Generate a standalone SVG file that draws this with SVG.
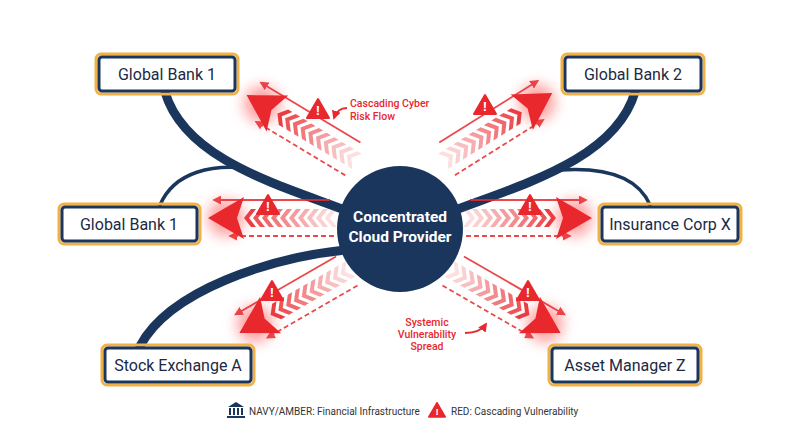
<svg xmlns="http://www.w3.org/2000/svg" xmlns:xlink="http://www.w3.org/1999/xlink" width="800" height="447" viewBox="0 0 800 447">
<defs>
<style>
.box{fill:#fff;stroke:#1b365d;stroke-width:3}
.amb{fill:none;stroke:#f2b045;stroke-width:3}
.lbl{font-family:Roboto,"Liberation Sans",sans-serif;font-size:16px;fill:#1b2a45;text-anchor:middle}
.navy{fill:none;stroke:#1b365d;stroke-linecap:round}
.rl{stroke:#e8282d;stroke-width:1.8;fill:none}
.ann{font-family:Roboto,"Liberation Sans",sans-serif;font-size:10.5px;fill:#e8282d;font-weight:500}
.leg{font-family:Roboto,"Liberation Sans",sans-serif;font-size:10px;fill:#333}
</style>
<filter id="blur" x="-1" y="-1" width="3" height="3"><feGaussianBlur stdDeviation="7"/></filter>
<marker id="ah" viewBox="0 0 10 10" refX="8" refY="5" markerWidth="5" markerHeight="5" orient="auto"><path d="M0,0 L10,5 L0,10 Z" fill="#e8282d"/></marker>
<path id="chev" d="M0,-9 L7,0 L0,9 L-5,9 L2,0 L-5,-9 Z" fill="#e8282d"/>
<g id="flow">
<circle cx="112" cy="0" r="18" fill="#ff4d4d" opacity="0.55" filter="url(#blur)"/>
<line x1="8" y1="-18" x2="124" y2="-18" class="rl" marker-end="url(#ah)" opacity="0.85"/>
<line x1="4" y1="18" x2="108" y2="18" class="rl" stroke-dasharray="5,3" marker-end="url(#ah)" opacity="0.85"/>
<use href="#chev" x="6" opacity="0.15"/><use href="#chev" x="15" opacity="0.22"/><use href="#chev" x="24" opacity="0.3"/>
<use href="#chev" x="33" opacity="0.38"/><use href="#chev" x="42" opacity="0.46"/><use href="#chev" x="51" opacity="0.54"/>
<use href="#chev" x="60" opacity="0.62"/><use href="#chev" x="69" opacity="0.7"/><use href="#chev" x="78" opacity="0.8"/>
<use href="#chev" x="87" opacity="0.9"/>
<path d="M94,-21 L130,0 L94,21 L101,0 Z" fill="#e8282d"/>
</g>
<g id="warn"><path d="M0,-11 L11,8 L-11,8 Z" fill="#e8282d" stroke="#e8282d" stroke-width="2" stroke-linejoin="round"/><text x="0" y="5" font-family="Liberation Sans,sans-serif" font-size="13" font-weight="bold" fill="#fff" text-anchor="middle">!</text></g>
</defs>
<rect width="800" height="447" fill="#fff"/>

<g id="connectors">
<path class="navy" stroke-width="9" d="M165,92 C185,160 280,185 350,212"/>
<path class="navy" stroke-width="3.5" d="M160,205 C175,170 215,165 245,168"/>
<path class="navy" stroke-width="9" d="M635,92 C615,160 520,185 450,212"/>
<path class="navy" stroke-width="3.5" d="M650,205 C635,170 590,168 560,170"/>
<path class="navy" stroke-width="9" d="M140,346 C170,290 270,258 345,250"/>
</g>

<g id="flows">
<use href="#flow" transform="translate(358,162) rotate(211) scale(1,-1)"/>
<use href="#flow" transform="translate(442,162) rotate(-32)"/>
<use href="#flow" transform="translate(338,218) rotate(180) scale(1,-1)"/>
<use href="#flow" transform="translate(462,218)"/>
<use href="#flow" transform="translate(352,268) rotate(150) scale(1,-1)"/>
<use href="#flow" transform="translate(448,268) rotate(30)"/>
<use href="#warn" x="318" y="110"/>
<use href="#warn" x="485" y="106"/>
<use href="#warn" x="268" y="206"/>
<use href="#warn" x="530" y="206"/>
<use href="#warn" x="272" y="292"/>
<use href="#warn" x="528" y="292"/>
</g>

<g id="provider">
<circle cx="400" cy="229" r="63" fill="#1b365d"/>
<text x="400" y="222" font-family="Roboto,'Liberation Sans',sans-serif" font-size="15.5" font-weight="bold" fill="#fff" text-anchor="middle">Concentrated</text>
<text x="400" y="242" font-family="Roboto,'Liberation Sans',sans-serif" font-size="15.5" font-weight="bold" fill="#fff" text-anchor="middle">Cloud Provider</text>
</g>

<g id="n-gb1-top"><rect class="amb" x="96" y="54" width="142" height="40" rx="5"/><rect class="box" x="99" y="57" width="136" height="34" rx="3"/><text class="lbl" x="167" y="80">Global Bank 1</text></g>
<g id="n-gb2"><rect class="amb" x="562" y="54" width="142" height="40" rx="5"/><rect class="box" x="565" y="57" width="136" height="34" rx="3"/><text class="lbl" x="633" y="80">Global Bank 2</text></g>
<g id="n-gb1-mid"><rect class="amb" x="59" y="204" width="141" height="40" rx="5"/><rect class="box" x="62" y="207" width="135" height="34" rx="3"/><text class="lbl" x="129" y="230">Global Bank 1</text></g>
<g id="n-ins"><rect class="amb" x="599" y="204" width="142" height="40" rx="5"/><rect class="box" x="602" y="207" width="136" height="34" rx="3"/><text class="lbl" x="670" y="230">Insurance Corp X</text></g>
<g id="n-sx"><rect class="amb" x="102" y="345" width="152" height="40" rx="5"/><rect class="box" x="105" y="348" width="146" height="34" rx="3"/><text class="lbl" x="178" y="371">Stock Exchange A</text></g>
<g id="n-am"><rect class="amb" x="549" y="345" width="152" height="40" rx="5"/><rect class="box" x="552" y="348" width="146" height="34" rx="3"/><text class="lbl" x="625" y="371">Asset Manager Z</text></g>

<g id="annotations">
<text class="ann" x="350" y="107">Cascading Cyber</text>
<text class="ann" x="350" y="120">Risk Flow</text>
<path d="M347,108 C340,108 336,112 334,118" class="rl" stroke-width="1.2" marker-end="url(#ah)"/>
<text class="ann" x="427" y="326" text-anchor="middle">Systemic</text>
<text class="ann" x="427" y="338" text-anchor="middle">Vulnerability</text>
<text class="ann" x="427" y="350" text-anchor="middle">Spread</text>
<path d="M465,333 C475,333 482,330 486,324" class="rl" stroke-width="1.2" marker-end="url(#ah)"/>
</g>

<g id="legend">
<g fill="#1b365d"><path d="M228,407 L236,402 L244,407 Z"/><rect x="229" y="408" width="2" height="7"/><rect x="233" y="408" width="2" height="7"/><rect x="237" y="408" width="2" height="7"/><rect x="241" y="408" width="2" height="7"/><rect x="227" y="416" width="18" height="2"/></g>
<text class="leg" x="249" y="415">NAVY/AMBER: Financial Infrastructure</text>
<use href="#warn" transform="translate(437,411) scale(0.75)"/>
<text class="leg" x="451" y="415">RED: Cascading Vulnerability</text>
</g>
</svg>
